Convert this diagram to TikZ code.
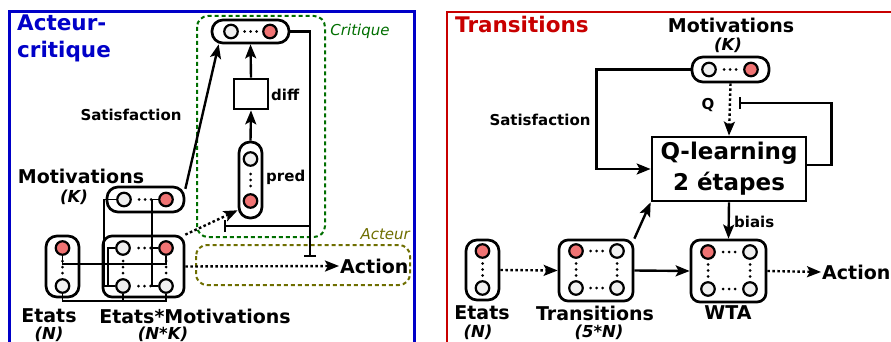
\documentclass[tikz,border=0pt]{standalone}
\usepackage{fontspec}
\setmainfont{DejaVu Sans}
\usetikzlibrary{arrows.meta,decorations.markings}
\definecolor{cblue}{RGB}{0,0,200}
\definecolor{cred}{RGB}{200,0,0}
\definecolor{cgreen}{RGB}{0,110,0}
\definecolor{colive}{RGB}{110,110,0}
\definecolor{nred}{RGB}{240,115,115}
\definecolor{nwhite}{RGB}{240,240,240}
\begin{document}
\begin{tikzpicture}[x=1pt,y=-1pt,
  neu/.style={circle,draw,line width=2.2pt,minimum size=13.5pt,inner sep=0pt},
  nw/.style={neu,fill=nwhite},
  nr/.style={neu,fill=nred},
  pill/.style={draw,line width=2.7pt,rounded corners=11pt,inner sep=0pt},
  grid/.style={draw,line width=2.7pt,rounded corners=9pt,inner sep=0pt},
  sq/.style={draw,line width=2.7pt,inner sep=0pt},
  ndots/.style={decorate,decoration={markings,mark=at position 0.5 with {%
      \fill (-6pt,0pt) circle (1.5pt); \fill (0pt,0pt) circle (1.5pt); \fill (6pt,0pt) circle (1.5pt);}}},
  conn/.style={line width=2.4pt,-{Stealth[length=14pt,width=11pt,inset=3pt]}},
  dotconn/.style={conn,dash pattern=on 2.6pt off 2.4pt},
  inh/.style={line width=2.4pt,-{Bar[width=12pt,line width=2.4pt]}},
  wire/.style={line width=1.8pt},
  lab/.style={font=\fontsize{19}{22}\selectfont\bfseries,inner sep=1pt},
  slab/.style={font=\fontsize{15}{18}\selectfont\bfseries,inner sep=1pt},
  sub/.style={font=\fontsize{16.5}{19}\selectfont\bfseries\itshape,inner sep=1pt},
  ttl/.style={font=\fontsize{21.5}{27}\selectfont\bfseries,inner sep=0pt,align=left},
  grp/.style={line width=2pt,dash pattern=on 4pt off 3pt,rounded corners=11pt},
  glab/.style={font=\fontsize{15}{18}\selectfont\itshape,inner sep=1pt},
]
\useasboundingbox (0,0) rectangle (891,342);
\clip (0,0) rectangle (891,342);

% ---------------- frames ----------------
\draw[cblue,line width=3pt] (9,12) rectangle (414,360);
\draw[cred,line width=2.6pt] (447,12) rectangle (900,360);
\node[ttl,cblue,anchor=north west] (t1) at (17,15) {Acteur-\\critique};
\node[ttl,cred,anchor=north west] (t2) at (455,16) {Transitions};

% ---------------- left: groups ----------------
\draw[grp,cgreen] (197,16) rectangle (325,237);
\node[glab,cgreen] (lcrit) at (360,31) {Critique};
\draw[grp,colive] (196,245) rectangle (410,285);
\node[glab,colive,anchor=east] (lact) at (411,234) {Acteur};

% critic value
\node[pill,minimum width=77pt,minimum height=23pt] (critv) at (250.5,31.5) {};
\node[nw] (cvW) at (231,31.5) {};
\node[nr] (cvR) at (270,31.5) {};
\path[ndots] (cvW) -- (cvR);

% diff
\node[sq,minimum width=34pt,minimum height=30pt] (diff) at (251,94) {};
\node[slab,anchor=west] (ldiff) at (270,95) {diff};

% pred
\node[pill,minimum width=23pt,minimum height=76pt] (pred) at (250.5,180) {};
\node[nw] (pW) at (250.5,159) {};
\node[nr] (pR) at (250.5,201) {};
\path[ndots] (pW) -- (pR);
\node[slab,anchor=west] (lpred) at (265,177) {pred};

% motivations
\node[pill,minimum width=77pt,minimum height=25pt] (mot) at (145.5,199.5) {};
\node[nw] (mW) at (124,199.5) {};
\node[nr] (mR) at (166,199.5) {};
\path[ndots] (mW) -- (mR);
\node[lab] (lmot) at (81,176) {Motivations};
\node[sub] (lmotk) at (74,197) {(K)};

% etats
\node[pill,minimum width=33pt,minimum height=61pt] (et) at (62.5,266.5) {};
\node[nr] (eR) at (62.5,248) {};
\node[nw] (eW) at (62.5,286) {};
\path[ndots] (eR) -- (eW);
\node[lab] (let) at (49,316) {Etats};
\node[sub] (letn) at (49,334) {(N)};

% etats*motivations
\node[grid,minimum width=81pt,minimum height=61pt] (em) at (143.5,266.5) {};
\node[nw] (emTL) at (123,248) {};
\node[nr] (emTR) at (166,248) {};
\node[nw] (emBL) at (123,286) {};
\node[nw] (emBR) at (166,286) {};
\path[ndots] (emTL) -- (emTR);
\path[ndots] (emBL) -- (emBR);
\path[ndots] (emTL) -- (emBL);
\path[ndots] (emTR) -- (emBR);
\node[lab] (lem) at (195,316) {Etats*Motivations};
\node[sub] (lemn) at (163,334) {(N*K)};

% wires
\draw[wire] (mW.west) -- ++(-12,0) |- (emBL.west);
\draw[wire] (emTL.west) -- ++(-7,0) |- (emBL.west);
\draw[wire] (mR.west) -- ++(-6,0) |- (emBR.west);
\draw[wire] (emTR.west) -- ++(-6,0);
\draw[wire] (eR.south) -- ++(0,8) -| (emTR.south);
\draw[wire] (eW.south) -- ++(0,7) -| (emBR.south);
\draw[wire] (emBL.south) -- ++(0,7);

% connectors left
\node[slab] (lsat1) at (131,115) {Satisfaction};
\draw[conn] (mot.15) -- (critv.202);
\draw[conn] (diff.north) -- (critv.south);
\draw[conn] (pred.north) -- (diff.south);
\draw[dotconn] (em.north east) -- (pred.247);
\node[lab,anchor=west] (act1) at (339,266) {Action};
\draw[dotconn] (em.east) -- (act1.west);
\coordinate (bar1) at (310,257);
\coordinate (junc) at (310,226);
\coordinate (bar2) at (224,226);
\draw[inh] (critv.east) -| (bar1);
\draw[inh] (junc) -- (bar2);

% ---------------- right panel ----------------
\node[pill,minimum width=77pt,minimum height=25pt] (motR) at (730.5,69.5) {};
\node[nw] (mrW) at (709,69.5) {};
\node[nr] (mrR) at (751,69.5) {};
\path[ndots] (mrW) -- (mrR);
\node[lab] (lmotR) at (731,25) {Motivations};
\node[sub] (lmotRk) at (728,45) {(K)};

\node[sq,minimum width=154pt,minimum height=64pt,align=center,font=\fontsize{23}{31}\selectfont\bfseries] (ql) at (729,169) {Q-learning\\2 étapes};

\node[grid,minimum width=75pt,minimum height=62pt] (wta) at (728.5,271) {};
\node[nr] (wTL) at (708,252) {};
\node[nw] (wTR) at (750,252) {};
\node[nw] (wBL) at (708,289) {};
\node[nw] (wBR) at (750,289) {};
\path[ndots] (wTL) -- (wTR);
\path[ndots] (wBL) -- (wBR);
\path[ndots] (wTL) -- (wBL);
\path[ndots] (wTR) -- (wBR);
\node[lab] (lwta) at (728,313) {WTA};

\node[grid,minimum width=74pt,minimum height=61pt] (tr) at (596,270.5) {};
\node[nr] (tTL) at (576,251) {};
\node[nw] (tTR) at (617,251) {};
\node[nw] (tBL) at (576,288) {};
\node[nw] (tBR) at (617,288) {};
\path[ndots] (tTL) -- (tTR);
\path[ndots] (tBL) -- (tBR);
\path[ndots] (tTL) -- (tBL);
\path[ndots] (tTR) -- (tBR);
\node[lab] (ltr) at (595,313) {Transitions};
\node[sub] (ltrn) at (599,332) {(5*N)};

\node[pill,minimum width=33pt,minimum height=60pt] (etR) at (482.5,270) {};
\node[nr] (erR) at (482.5,251) {};
\node[nw] (erW) at (482.5,288) {};
\path[ndots] (erR) -- (erW);
\node[lab] (letR) at (482,313) {Etats};
\node[sub] (letRn) at (478,332) {(N)};

\node[slab] (lsat2) at (540,120) {Satisfaction};
\node[slab] (lq) at (708,105) {Q};
\node[slab,anchor=west] (lbiais) at (733,222) {biais};
\node[lab,anchor=west] (act2) at (821,272) {Action};

\draw[conn] (motR.west) -- ++(-94,0) |- (ql.west);
\draw[dotconn] (motR.south) -- (ql.north);
\coordinate (qbar) at (739,103);
\draw[inh] ([yshift=4pt]ql.east) -- ++(24,0) |- (qbar);
\draw[conn] (ql.south) -- (wta.north);
\draw[conn] (tr.north east) -- (ql.south west);
\draw[conn] (tr.east) -- (wta.west);
\draw[dotconn] (etR.east) -- (tr.west);
\draw[dotconn] (wta.east) -- (act2.west);
\end{tikzpicture}
\end{document}
